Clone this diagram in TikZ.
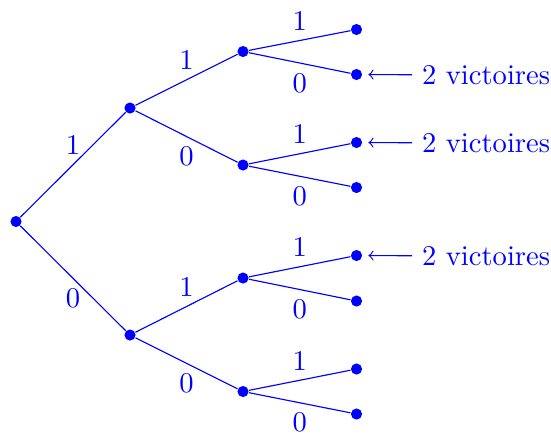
\documentclass[tikz,border=0pt]{standalone}
\usepackage{tikz}

\begin{document}
\begin{tikzpicture}[x=.35pt,y=-.35pt,blue,dot/.style={circle,fill,inner sep=0,minimum size=3.9pt}]
  \useasboundingbox (0,0) rectangle (551,434);
  % nodes of the tree
  \node[dot] (R) at (16,221.5) {};
  \node[dot] (A) at (130,108) {}; \node[dot] (B) at (130,335) {};
  \node[dot] (AA) at (243,51.5) {}; \node[dot] (AB) at (243,165) {};
  \node[dot] (BA) at (243,278) {}; \node[dot] (BB) at (243,391.5) {};
  \node[dot] (AAA) at (356.5,29.5) {}; \node[dot] (AAB) at (356.5,74.5) {};
  \node[dot] (ABA) at (356.5,142.5) {}; \node[dot] (ABB) at (356.5,187.5) {};
  \node[dot] (BAA) at (356.5,255.5) {}; \node[dot] (BAB) at (356.5,301) {};
  \node[dot] (BBA) at (356.5,369) {}; \node[dot] (BBB) at (356.5,414) {};
  % branches
  \draw (R)--node[above]{1}(A); \draw (R)--node[below]{0}(B);
  \draw (A)--node[above]{1}(AA); \draw (A)--node[below]{0}(AB);
  \draw (B)--node[above]{1}(BA); \draw (B)--node[below]{0}(BB);
  \draw (AA)--node[above]{1}(AAA); \draw (AA)--node[below]{0}(AAB);
  \draw (AB)--node[above]{1}(ABA); \draw (AB)--node[below]{0}(ABB);
  \draw (BA)--node[above]{1}(BAA); \draw (BA)--node[below]{0}(BAB);
  \draw (BB)--node[above]{1}(BBA); \draw (BB)--node[below]{0}(BBB);
  % wins
  \node[right] (V1) at (412,75) {2 victoires}; \draw[->,shorten >=2pt] (V1)--(AAB);
  \node[right] (V2) at (412,143) {2 victoires}; \draw[->,shorten >=2pt] (V2)--(ABA);
  \node[right] (V3) at (412,256) {2 victoires}; \draw[->,shorten >=2pt] (V3)--(BAA);
\end{tikzpicture}
\end{document}
